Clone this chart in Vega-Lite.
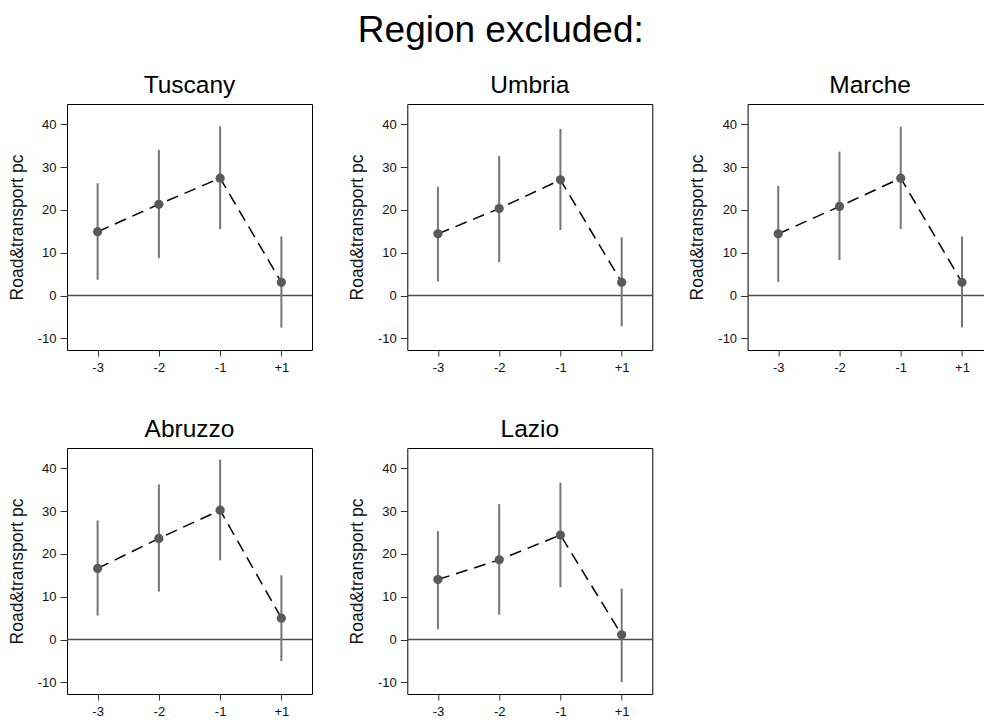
{
  "$schema": "https://vega.github.io/schema/vega-lite/v6.json",
  "background": "white",
  "padding": {"left": 7, "top": 12, "right": 0, "bottom": 0},
  "title": {"text": "Region excluded:", "fontSize": 37, "font": "Liberation Sans", "fontWeight": "normal", "color": "#000", "anchor": "middle", "offset": 22},
  "data": {"values": [
    {"region": "Tuscany", "period": "-3", "est": 14.9, "lo": 3.7, "hi": 26.2},
    {"region": "Tuscany", "period": "-2", "est": 21.3, "lo": 8.7, "hi": 34.0},
    {"region": "Tuscany", "period": "-1", "est": 27.4, "lo": 15.5, "hi": 39.5},
    {"region": "Tuscany", "period": "+1", "est": 3.1, "lo": -7.5, "hi": 13.8},
    {"region": "Umbria", "period": "-3", "est": 14.4, "lo": 3.3, "hi": 25.4},
    {"region": "Umbria", "period": "-2", "est": 20.3, "lo": 7.8, "hi": 32.6},
    {"region": "Umbria", "period": "-1", "est": 27.0, "lo": 15.3, "hi": 38.9},
    {"region": "Umbria", "period": "+1", "est": 3.1, "lo": -7.2, "hi": 13.6},
    {"region": "Marche", "period": "-3", "est": 14.4, "lo": 3.2, "hi": 25.6},
    {"region": "Marche", "period": "-2", "est": 20.8, "lo": 8.3, "hi": 33.6},
    {"region": "Marche", "period": "-1", "est": 27.4, "lo": 15.5, "hi": 39.4},
    {"region": "Marche", "period": "+1", "est": 3.1, "lo": -7.4, "hi": 13.8},
    {"region": "Abruzzo", "period": "-3", "est": 16.6, "lo": 5.6, "hi": 27.8},
    {"region": "Abruzzo", "period": "-2", "est": 23.6, "lo": 11.2, "hi": 36.2},
    {"region": "Abruzzo", "period": "-1", "est": 30.2, "lo": 18.5, "hi": 42.0},
    {"region": "Abruzzo", "period": "+1", "est": 5.0, "lo": -5.0, "hi": 15.0},
    {"region": "Lazio", "period": "-3", "est": 14.0, "lo": 2.4, "hi": 25.3},
    {"region": "Lazio", "period": "-2", "est": 18.6, "lo": 5.8, "hi": 31.6},
    {"region": "Lazio", "period": "-1", "est": 24.4, "lo": 12.2, "hi": 36.6},
    {"region": "Lazio", "period": "+1", "est": 1.1, "lo": -9.9, "hi": 11.9}
  ]},
  "columns": 3,
  "bounds": "flush",
  "spacing": {"row": 98, "column": 95.3},
  "concat": [
    {
      "title": {"text": "Tuscany"},
      "width": 245, "height": 246,
      "transform": [{"filter": "datum.region === 'Tuscany'"}],
      "layer": [
        {"transform": [{"filter": "datum.period === '-3'"}], "mark": {"type": "rule", "color": "#4d4d4d", "strokeWidth": 1.5}, "encoding": {"y": {"datum": 0, "type": "quantitative", "scale": {"domain": [-12.7, 44.7], "nice": false, "zero": false}, "title": "Road&transport pc"}}},
        {"mark": {"type": "rule", "color": "#767676", "strokeWidth": 2}, "encoding": {"x": {"field": "period", "type": "ordinal", "scale": {"type": "point", "padding": 0.5, "domain": ["-3", "-2", "-1", "+1"]}, "title": null, "axis": {"labelAngle": 0}}, "y": {"field": "lo", "type": "quantitative", "title": "Road&transport pc"}, "y2": {"field": "hi"}}},
        {"mark": {"type": "line", "color": "#000", "strokeWidth": 1.5, "strokeDash": [12, 7]}, "encoding": {"x": {"field": "period", "type": "ordinal", "sort": ["-3", "-2", "-1", "+1"]}, "y": {"field": "est", "type": "quantitative", "title": "Road&transport pc"}}},
        {"mark": {"type": "circle", "color": "#595959", "opacity": 1, "size": 85}, "encoding": {"x": {"field": "period", "type": "ordinal"}, "y": {"field": "est", "type": "quantitative", "title": "Road&transport pc"}}}
      ]
    },
    {
      "title": {"text": "Umbria"},
      "width": 245, "height": 246,
      "transform": [{"filter": "datum.region === 'Umbria'"}],
      "layer": [
        {"transform": [{"filter": "datum.period === '-3'"}], "mark": {"type": "rule", "color": "#4d4d4d", "strokeWidth": 1.5}, "encoding": {"y": {"datum": 0, "type": "quantitative", "scale": {"domain": [-12.7, 44.7], "nice": false, "zero": false}, "title": "Road&transport pc"}}},
        {"mark": {"type": "rule", "color": "#767676", "strokeWidth": 2}, "encoding": {"x": {"field": "period", "type": "ordinal", "scale": {"type": "point", "padding": 0.5, "domain": ["-3", "-2", "-1", "+1"]}, "title": null, "axis": {"labelAngle": 0}}, "y": {"field": "lo", "type": "quantitative", "title": "Road&transport pc"}, "y2": {"field": "hi"}}},
        {"mark": {"type": "line", "color": "#000", "strokeWidth": 1.5, "strokeDash": [12, 7]}, "encoding": {"x": {"field": "period", "type": "ordinal", "sort": ["-3", "-2", "-1", "+1"]}, "y": {"field": "est", "type": "quantitative", "title": "Road&transport pc"}}},
        {"mark": {"type": "circle", "color": "#595959", "opacity": 1, "size": 85}, "encoding": {"x": {"field": "period", "type": "ordinal"}, "y": {"field": "est", "type": "quantitative", "title": "Road&transport pc"}}}
      ]
    },
    {
      "title": {"text": "Marche"},
      "width": 245, "height": 246,
      "transform": [{"filter": "datum.region === 'Marche'"}],
      "layer": [
        {"transform": [{"filter": "datum.period === '-3'"}], "mark": {"type": "rule", "color": "#4d4d4d", "strokeWidth": 1.5}, "encoding": {"y": {"datum": 0, "type": "quantitative", "scale": {"domain": [-12.7, 44.7], "nice": false, "zero": false}, "title": "Road&transport pc"}}},
        {"mark": {"type": "rule", "color": "#767676", "strokeWidth": 2}, "encoding": {"x": {"field": "period", "type": "ordinal", "scale": {"type": "point", "padding": 0.5, "domain": ["-3", "-2", "-1", "+1"]}, "title": null, "axis": {"labelAngle": 0}}, "y": {"field": "lo", "type": "quantitative", "title": "Road&transport pc"}, "y2": {"field": "hi"}}},
        {"mark": {"type": "line", "color": "#000", "strokeWidth": 1.5, "strokeDash": [12, 7]}, "encoding": {"x": {"field": "period", "type": "ordinal", "sort": ["-3", "-2", "-1", "+1"]}, "y": {"field": "est", "type": "quantitative", "title": "Road&transport pc"}}},
        {"mark": {"type": "circle", "color": "#595959", "opacity": 1, "size": 85}, "encoding": {"x": {"field": "period", "type": "ordinal"}, "y": {"field": "est", "type": "quantitative", "title": "Road&transport pc"}}}
      ]
    },
    {
      "title": {"text": "Abruzzo"},
      "width": 245, "height": 246,
      "transform": [{"filter": "datum.region === 'Abruzzo'"}],
      "layer": [
        {"transform": [{"filter": "datum.period === '-3'"}], "mark": {"type": "rule", "color": "#4d4d4d", "strokeWidth": 1.5}, "encoding": {"y": {"datum": 0, "type": "quantitative", "scale": {"domain": [-12.7, 44.7], "nice": false, "zero": false}, "title": "Road&transport pc"}}},
        {"mark": {"type": "rule", "color": "#767676", "strokeWidth": 2}, "encoding": {"x": {"field": "period", "type": "ordinal", "scale": {"type": "point", "padding": 0.5, "domain": ["-3", "-2", "-1", "+1"]}, "title": null, "axis": {"labelAngle": 0}}, "y": {"field": "lo", "type": "quantitative", "title": "Road&transport pc"}, "y2": {"field": "hi"}}},
        {"mark": {"type": "line", "color": "#000", "strokeWidth": 1.5, "strokeDash": [12, 7]}, "encoding": {"x": {"field": "period", "type": "ordinal", "sort": ["-3", "-2", "-1", "+1"]}, "y": {"field": "est", "type": "quantitative", "title": "Road&transport pc"}}},
        {"mark": {"type": "circle", "color": "#595959", "opacity": 1, "size": 85}, "encoding": {"x": {"field": "period", "type": "ordinal"}, "y": {"field": "est", "type": "quantitative", "title": "Road&transport pc"}}}
      ]
    },
    {
      "title": {"text": "Lazio"},
      "width": 245, "height": 246,
      "transform": [{"filter": "datum.region === 'Lazio'"}],
      "layer": [
        {"transform": [{"filter": "datum.period === '-3'"}], "mark": {"type": "rule", "color": "#4d4d4d", "strokeWidth": 1.5}, "encoding": {"y": {"datum": 0, "type": "quantitative", "scale": {"domain": [-12.7, 44.7], "nice": false, "zero": false}, "title": "Road&transport pc"}}},
        {"mark": {"type": "rule", "color": "#767676", "strokeWidth": 2}, "encoding": {"x": {"field": "period", "type": "ordinal", "scale": {"type": "point", "padding": 0.5, "domain": ["-3", "-2", "-1", "+1"]}, "title": null, "axis": {"labelAngle": 0}}, "y": {"field": "lo", "type": "quantitative", "title": "Road&transport pc"}, "y2": {"field": "hi"}}},
        {"mark": {"type": "line", "color": "#000", "strokeWidth": 1.5, "strokeDash": [12, 7]}, "encoding": {"x": {"field": "period", "type": "ordinal", "sort": ["-3", "-2", "-1", "+1"]}, "y": {"field": "est", "type": "quantitative", "title": "Road&transport pc"}}},
        {"mark": {"type": "circle", "color": "#595959", "opacity": 1, "size": 85}, "encoding": {"x": {"field": "period", "type": "ordinal"}, "y": {"field": "est", "type": "quantitative", "title": "Road&transport pc"}}}
      ]
    }
  ],
  "config": {
    "font": "Liberation Sans",
    "view": {"stroke": "#000", "strokeWidth": 1},
    "title": {"fontSize": 24.5, "fontWeight": "normal", "font": "Liberation Sans", "color": "#000", "anchor": "middle", "offset": 6},
    "axis": {"grid": false, "domain": false, "labelFont": "Liberation Sans", "labelFontSize": 13, "labelColor": "#111", "tickColor": "#333", "tickWidth": 1, "titleFont": "Liberation Sans", "titleFontSize": 17.5, "titleFontWeight": "normal", "titleColor": "#111"},
    "axisY": {"values": [-10, 0, 10, 20, 30, 40], "tickSize": 7, "labelPadding": 4, "titlePadding": 11, "labelExpr": "datum.value < 0 ? '-' + abs(datum.value) : '' + datum.value"},
    "axisX": {"tickSize": 6, "labelPadding": 5}
  }
}
